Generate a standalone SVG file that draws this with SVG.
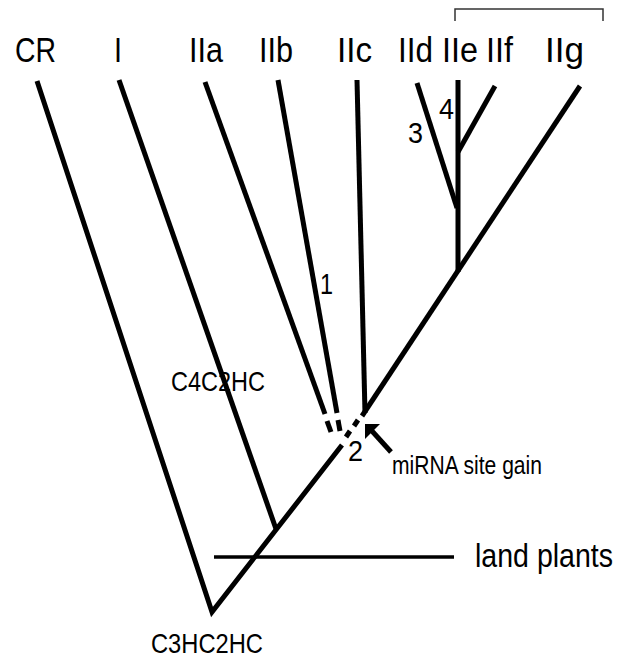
<svg xmlns="http://www.w3.org/2000/svg" width="619" height="660" viewBox="0 0 619 660">
<style>
.br{stroke:#000;stroke-width:5;fill:none;stroke-linecap:butt}
.lbl{font-family:"Liberation Sans",Arial,sans-serif;fill:#000}
.big{font-size:35px}
.mid{font-size:28px}
.num{font-size:30px}
</style>
<rect width="619" height="660" fill="#fff"/>
<g id="connectors">
  <path class="br" d="M37,81 L212,612 L342,445"/>
  <path class="br" d="M119,80 L276,529"/>
  <path class="br" d="M580,86 L362,416"/>
  <path class="br" d="M357,80 L365,413"/>
  <path class="br" d="M205,82 L325,414"/>
  <path class="br" d="M327,421 L331,432"/>
  <path class="br" d="M278,80 L337,413"/>
  <path class="br" d="M338,420 L340,431"/>
  <path class="br" d="M358,420 L354,426"/>
  <path class="br" d="M350,431 L346,437"/>
  <path class="br" d="M458,80 L458,272"/>
  <path class="br" d="M417,83 L457,208"/>
  <path class="br" d="M495,86 L458,152"/>
  <path d="M214,557 L454,557" stroke="#000" stroke-width="3.5" fill="none"/>
  <path d="M455,21 L455,9 L603,9 L603,21" stroke="#333" stroke-width="1.5" fill="none"/>
  <path d="M391,452 L372,431" stroke="#000" stroke-width="5" fill="none"/>
  <polygon points="365,424 380,424 365,439" fill="#000"/>
</g>
<g id="labels">
  <text class="lbl big" x="15" y="62" textLength="41" lengthAdjust="spacingAndGlyphs">CR</text>
  <text class="lbl big" x="114" y="62" textLength="8" lengthAdjust="spacingAndGlyphs">I</text>
  <text class="lbl big" x="189" y="62" textLength="34" lengthAdjust="spacingAndGlyphs">IIa</text>
  <text class="lbl big" x="259" y="62" textLength="34" lengthAdjust="spacingAndGlyphs">IIb</text>
  <text class="lbl big" x="337" y="62" textLength="35" lengthAdjust="spacingAndGlyphs">IIc</text>
  <text class="lbl big" x="398" y="62" textLength="35" lengthAdjust="spacingAndGlyphs">IId</text>
  <text class="lbl big" x="442" y="62" textLength="36" lengthAdjust="spacingAndGlyphs">IIe</text>
  <text class="lbl big" x="486" y="62" textLength="27" lengthAdjust="spacingAndGlyphs">IIf</text>
  <text class="lbl big" x="545" y="62" textLength="39" lengthAdjust="spacingAndGlyphs">IIg</text>
  <text class="lbl num" x="320" y="294" textLength="13" lengthAdjust="spacingAndGlyphs">1</text>
  <text class="lbl num" x="348" y="461" textLength="15" lengthAdjust="spacingAndGlyphs">2</text>
  <text class="lbl num" x="408" y="143" textLength="15" lengthAdjust="spacingAndGlyphs">3</text>
  <text class="lbl num" x="439" y="119" textLength="15" lengthAdjust="spacingAndGlyphs">4</text>
  <text class="lbl mid" x="171" y="391" textLength="94" lengthAdjust="spacingAndGlyphs">C4C2HC</text>
  <text class="lbl mid" x="151" y="653" textLength="112" lengthAdjust="spacingAndGlyphs">C3HC2HC</text>
  <text class="lbl" style="font-size:26px" x="392" y="474" textLength="150" lengthAdjust="spacingAndGlyphs">miRNA site gain</text>
  <text class="lbl" style="font-size:34px" transform="translate(475,567) scale(0.84,1)" x="0" y="0">land plants</text>
</g>
</svg>
